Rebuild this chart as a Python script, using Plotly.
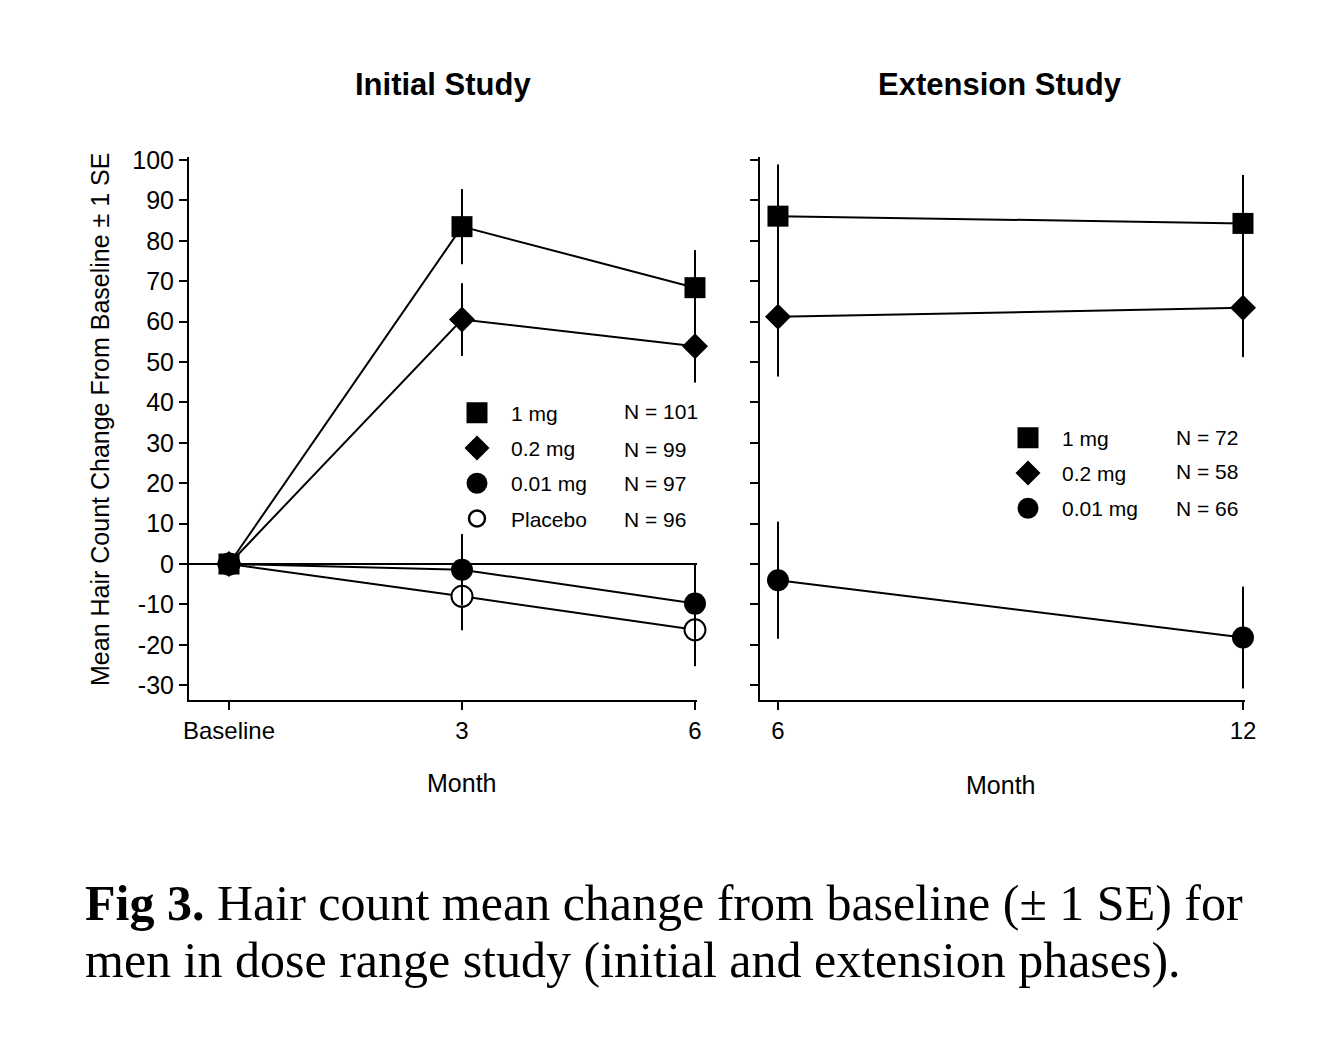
import plotly.graph_objects as go

W, H = 1328, 1040

# ---------------- data ----------------
months_initial = [0, 3, 6]
month_ticktext_initial = ["Baseline", "3", "6"]
months_extension = [6, 12]

initial_1mg = [0, 83.5, 68.4]
initial_1mg_se = [0, 9.3, 9.3]
initial_02mg = [0, 60.5, 53.9]
initial_02mg_se = [0, 9.0, 9.0]
initial_001mg = [0, -1.4, -9.8]
initial_001mg_se = [0, 8.8, 9.8]
initial_placebo = [0, -8.0, -16.3]
initial_placebo_se = [0, 8.4, 9.0]

ext_1mg = [86.1, 84.3]
ext_1mg_se = [12.8, 12.0]
ext_02mg = [61.2, 63.4]
ext_02mg_se = [14.8, 12.2]
ext_001mg = [-4.0, -18.2]
ext_001mg_se = [14.5, 12.6]

groups_initial = ["1 mg", "0.2 mg", "0.01 mg", "Placebo"]
n_initial = ["N = 101", "N = 99", "N = 97", "N = 96"]
groups_ext = ["1 mg", "0.2 mg", "0.01 mg"]
n_ext = ["N = 72", "N = 58", "N = 66"]

y_ticks = list(range(-30, 101, 10))
y_ticktext = [str(v) for v in y_ticks]

# ---------------- styles ----------------
FONT = "Liberation Sans, Arial, sans-serif"
SERIF = "Liberation Serif, Times New Roman, serif"
BLACK = "black"
OX, OY = 8, 8  # page body margin


def px(x):
    return (x - OX) / W


def py(y):
    return 1 - (y - OY) / H


marker_styles = {
    "1 mg": dict(symbol="square", size=21, color=BLACK),
    "0.2 mg": dict(symbol="diamond", size=20, color=BLACK),
    "0.01 mg": dict(symbol="circle", size=22, color=BLACK),
    "Placebo": dict(symbol="circle", size=21, color="white", line=dict(color=BLACK, width=2)),
}
# legend symbols are capped in size by plotly, so thicken their outline instead
legend_marker_styles = {
    "1 mg": dict(symbol="square", size=16, color=BLACK, line=dict(color=BLACK, width=5)),
    "0.2 mg": dict(symbol="diamond", size=16, color=BLACK, line=dict(color=BLACK, width=3)),
    "0.01 mg": dict(symbol="circle", size=16, color=BLACK, line=dict(color=BLACK, width=5)),
    "Placebo": dict(symbol="circle", size=16, color="white", line=dict(color=BLACK, width=2.5)),
}

fig = go.Figure()


def add_series(x, y, se, name, xa, ya):
    fig.add_trace(go.Scatter(
        x=x, y=y, mode="lines+markers", name=name, showlegend=False,
        xaxis=xa, yaxis=ya,
        line=dict(color=BLACK, width=2),
        marker=marker_styles[name],
        error_y=dict(type="data", array=se, visible=True, thickness=2, width=0, color=BLACK),
        cliponaxis=False,
    ))


# initial study (placebo drawn first so 1 mg is on top)
add_series(months_initial, initial_placebo, initial_placebo_se, "Placebo", "x", "y")
add_series(months_initial, initial_001mg, initial_001mg_se, "0.01 mg", "x", "y")
add_series(months_initial, initial_02mg, initial_02mg_se, "0.2 mg", "x", "y")
add_series(months_initial, initial_1mg, initial_1mg_se, "1 mg", "x", "y")

# extension study
add_series(months_extension, ext_001mg, ext_001mg_se, "0.01 mg", "x2", "y2")
add_series(months_extension, ext_02mg, ext_02mg_se, "0.2 mg", "x2", "y2")
add_series(months_extension, ext_1mg, ext_1mg_se, "1 mg", "x2", "y2")

# legend-only entries
for g in groups_initial:
    fig.add_trace(go.Scatter(x=[None], y=[None], mode="markers", name=g,
                             marker=legend_marker_styles[g], legend="legend",
                             legendgroup="a" + g, xaxis="x", yaxis="y"))
for g in groups_ext:
    fig.add_trace(go.Scatter(x=[None], y=[None], mode="markers", name=g,
                             marker=legend_marker_styles[g], legend="legend2",
                             legendgroup="b" + g, xaxis="x2", yaxis="y2"))

y_range = [-33.66, 100.74]
y_dom = [py(700), py(157)]

axis_common = dict(
    showline=True, linecolor=BLACK, linewidth=2,
    ticks="outside", ticklen=8, tickwidth=2, tickcolor=BLACK,
    showgrid=False, zeroline=False, automargin=False,
)
xfont = dict(family=FONT, size=24, color=BLACK)
yfont = dict(family=FONT, size=25, color=BLACK)
legfont = dict(family=FONT, size=21, color=BLACK)

fig.update_layout(
    width=W, height=H,
    margin=dict(l=0, r=0, t=0, b=0),
    paper_bgcolor="white", plot_bgcolor="white",
    font=dict(family=FONT, color=BLACK),
    xaxis=dict(domain=[px(189), px(697)], range=[-0.515, 6.026], anchor="y",
               tickvals=months_initial, ticktext=month_ticktext_initial,
               tickfont=xfont, **axis_common),
    yaxis=dict(domain=y_dom, range=y_range, anchor="x", tickvals=y_ticks,
               ticktext=y_ticktext, tickfont=yfont, **axis_common),
    xaxis2=dict(domain=[px(760), px(1245)], range=[5.768, 12.026], anchor="y2",
                tickvals=months_extension, tickfont=xfont, **axis_common),
    yaxis2=dict(domain=y_dom, range=y_range, anchor="x2", tickvals=y_ticks,
                showticklabels=False, **axis_common),
    legend=dict(x=px(443), y=py(392.5), xanchor="left", yanchor="top",
                bgcolor="rgba(0,0,0,0)", font=legfont,
                tracegroupgap=5, itemwidth=58),
    legend2=dict(x=px(994), y=py(417.5), xanchor="left", yanchor="top",
                 bgcolor="rgba(0,0,0,0)", font=legfont,
                 tracegroupgap=5, itemwidth=58),
)

# zero reference line in the initial study panel
fig.add_hline(y=0, line=dict(color=BLACK, width=2), xref="x", yref="y")


def ann(text, x, y, size, xanchor="center", yanchor="middle", family=FONT, angle=0):
    return dict(text=text, x=px(x), y=py(y), xref="paper", yref="paper",
                xanchor=xanchor, yanchor=yanchor, showarrow=False, textangle=angle,
                font=dict(family=family, size=size, color=BLACK))


annotations = [
    ann("<b>Initial Study</b>", 443, 85, 31),
    ann("<b>Extension Study</b>", 1000, 85, 31),
    ann("Month", 462, 783, 25),
    ann("Month", 1000, 785, 25),
    ann("Mean Hair Count Change From Baseline ± 1 SE", 100, 420, 25, angle=-90),
    ann("<b>Fig 3.</b> Hair count mean change from baseline (± 1 SE) for",
        86 - 3, 903, 50, xanchor="left", family=SERIF),
    ann("men in dose range study (initial and extension phases).",
        86 - 3, 960, 50, xanchor="left", family=SERIF),
]
rows_initial = [412, 449, 484, 519]
for txt, yy in zip(n_initial, rows_initial):
    annotations.append(ann(txt, 625 - 3, yy, 21, xanchor="left"))
rows_ext = [437, 472, 508]
for txt, yy in zip(n_ext, rows_ext):
    annotations.append(ann(txt, 1177 - 3, yy, 21, xanchor="left"))
fig.update_layout(annotations=annotations)

fig.write_html("out.html")
